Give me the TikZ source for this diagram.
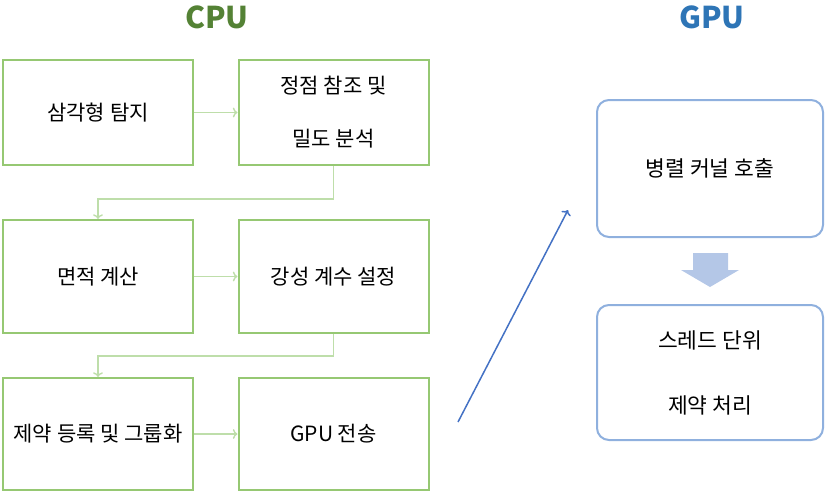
\documentclass[tikz,border=0pt]{standalone}
\usepackage{fontspec}
\setmainfont{Noto Sans CJK KR}
\usetikzlibrary{arrows.meta}
\definecolor{cpuline}{RGB}{150,200,115}
\definecolor{cpuflow}{RGB}{190,222,170}
\definecolor{cputitle}{RGB}{84,130,53}
\definecolor{gputitle}{RGB}{46,117,182}
\definecolor{gpuline}{RGB}{143,176,222}
\definecolor{gpuflow}{RGB}{68,114,196}
\definecolor{gpufill}{RGB}{180,199,231}
\tikzset{
  cpubox/.style={draw=cpuline,line width=2pt,minimum width=190pt,align=center,
    font=\fontsize{21}{24}\selectfont},
  gpubox/.style={draw=gpuline,line width=2pt,rounded corners=12pt,minimum width=226pt,
    align=center,font=\fontsize{21.5}{24}\selectfont},
  flow/.style={cpuflow,line width=1.4pt,->},
  title/.style={font=\fontsize{30}{32}\bfseries}
}
\begin{document}
\begin{tikzpicture}[x=1pt,y=-1pt]
  \useasboundingbox (0,0) rectangle (827,496);
  % titles
  \node[title,text=cputitle] (cpu) at (217,17) {CPU};
  \node[title,text=gputitle] (gpu) at (712,17) {GPU};

  % CPU side
  \node[cpubox,minimum height=105pt] (tri) at (98,112.5) {삼각형 탐지};
  \node[cpubox,minimum height=105pt] (vtx) at (333.5,112.5) {정점 참조 및\\[29pt]밀도 분석};
  \node[cpubox,minimum height=113pt] (area) at (98,276.5) {면적 계산};
  \node[cpubox,minimum height=113pt] (stiff) at (333.5,276.5) {강성 계수 설정};
  \node[cpubox,minimum height=112pt] (reg) at (98,434) {제약 등록 및 그룹화};
  \node[cpubox,minimum height=112pt] (send) at (333.5,434) {GPU 전송};

  \draw[flow] (tri) -- (vtx);
  \draw[flow] (vtx.south) -- ++(0,33) -| (area.north);
  \draw[flow] (area) -- (stiff);
  \draw[flow] (stiff.south) -- ++(0,22) -| (reg.north);
  \draw[flow] (reg) -- (send);

  % GPU side
  \node[gpubox,minimum height=137pt] (kern) at (710,168.5) {병렬 커널 호출};
  \node[gpubox,minimum height=135pt] (thr) at (710,372.5) {스레드 단위\\[41pt]제약 처리};

  % arrow between the two sides
  \coordinate (s) at (458,422);
  \coordinate (e) at (568,210);
  \draw[gpuflow,line width=1.5pt,->] (s) -- (e);

  % wide arrow
  \fill[gpufill] (693,253) -- (728,253) -- (728,270) -- (739,270) -- (710,287)
    -- (681,270) -- (693,270) -- cycle;
\end{tikzpicture}
\end{document}
